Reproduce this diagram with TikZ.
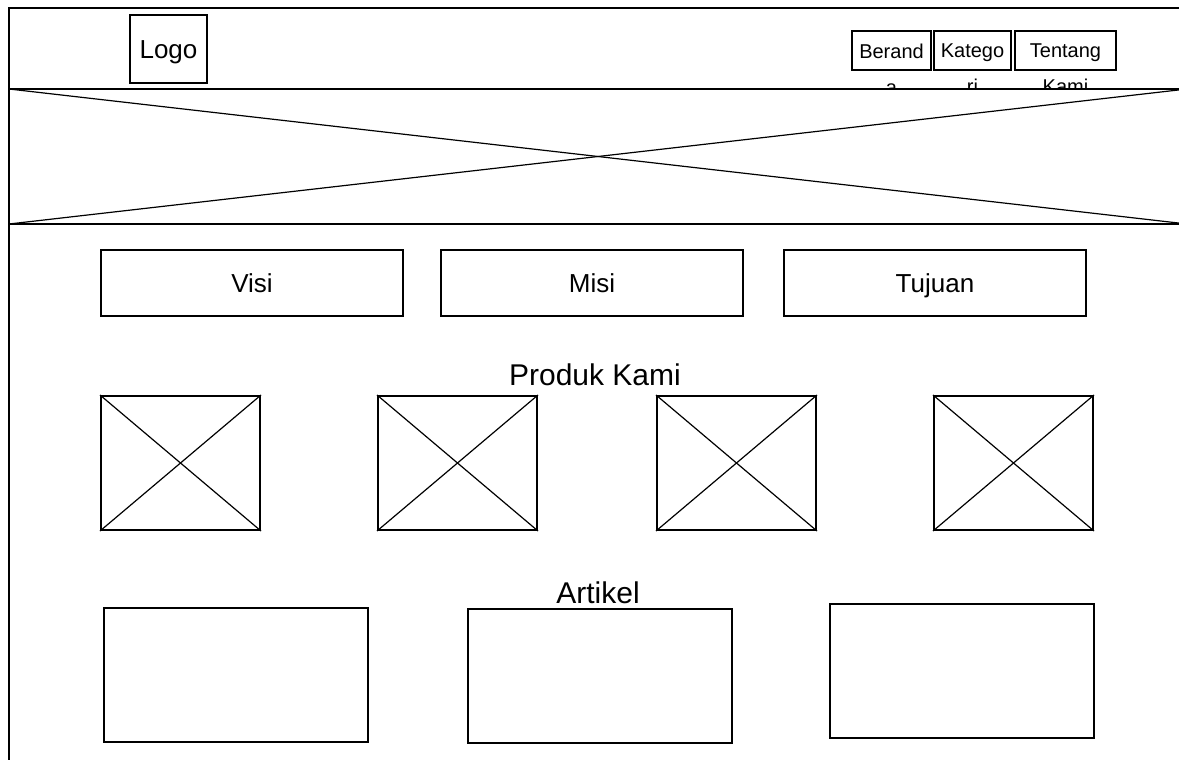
\documentclass[tikz,border=0pt]{standalone}
\usepackage{fontspec}
\setmainfont{Liberation Sans}
\begin{document}
\begin{tikzpicture}[x=1pt,y=-1pt,
    box/.style={draw,line width=2pt,inner sep=0pt,text height=18.7pt,text depth=0pt,
      font=\fontsize{26}{31}\selectfont},
    navbox/.style={draw,line width=2pt,minimum height=39pt,inner sep=0pt},
    navtext/.style={anchor=north,inner sep=0pt,align=center,font=\fontsize{20}{36}\selectfont},
    heading/.style={anchor=base,inner sep=0pt,font=\fontsize{30}{36}\selectfont},
    picbox/.style={draw,line width=2pt,minimum width=159pt,minimum height=134pt},
    artbox/.style={draw,line width=2pt,minimum width=264pt,minimum height=134pt},
    cross/.style={line width=1.2pt}]
  \useasboundingbox (0,0) rectangle (1179,760);
  \clip (0,0) rectangle (1179,760);
  % page frame
  \draw[line width=2pt] (1190,8) -- (9,8) -- (9,770);
  % header: logo and menu
  \node[box,minimum width=77pt,minimum height=68pt] (logo) at (168.5,49) {Logo};
  \node[navbox,minimum width=79pt] (beranda) at (891.5,50.5) {};
  \node[navbox,minimum width=77pt] (kategori) at (972.5,50.5) {};
  \node[navbox,minimum width=101pt] (tentang) at (1065.5,50.5) {};
  \node[navtext] (berandatext) at ([yshift=-14pt]beranda.north) {Berand\\a};
  \node[navtext] (kategoritext) at ([yshift=-14pt]kategori.north) {Katego\\ri};
  \node[navtext] (tentangtext) at ([yshift=-14pt]tentang.north) {Tentang\\Kami};
  % banner
  \node[draw,fill=white,line width=2pt,inner sep=0pt,outer sep=0pt,anchor=north west,
    minimum width=1178pt,minimum height=135pt] (banner) at (9,89) {};
  \draw[cross] (banner.north west) -- (banner.south east);
  \draw[cross] (banner.south west) -- (banner.north east);
  % visi, misi, tujuan
  \node[box,minimum width=302pt,minimum height=66pt] (visi) at (252,283) {Visi};
  \node[box,minimum width=302pt,minimum height=66pt] (misi) at (592,283) {Misi};
  \node[box,minimum width=302pt,minimum height=66pt] (tujuan) at (935,283) {Tujuan};
  % produk
  \node[heading] (produk) at (595,385) {Produk Kami};
  \node[picbox] (p1) at (180.5,463) {};
  \node[picbox] (p2) at (457.5,463) {};
  \node[picbox] (p3) at (736.5,463) {};
  \node[picbox] (p4) at (1013.5,463) {};
  \begin{scope}[cross]
    \draw (p1.north west) -- (p1.south east);
    \draw (p1.south west) -- (p1.north east);
    \draw (p2.north west) -- (p2.south east);
    \draw (p2.south west) -- (p2.north east);
    \draw (p3.north west) -- (p3.south east);
    \draw (p3.south west) -- (p3.north east);
    \draw (p4.north west) -- (p4.south east);
    \draw (p4.south west) -- (p4.north east);
  \end{scope}
  % artikel
  \node[heading] (artikel) at (598,603) {Artikel};
  \node[artbox] (a1) at (236,675) {};
  \node[artbox] (a2) at (600,675.5) {};
  \node[artbox] (a3) at (962,671) {};
\end{tikzpicture}
\end{document}
